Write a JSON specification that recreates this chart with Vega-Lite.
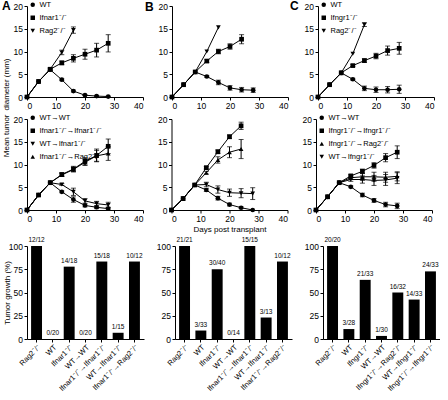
{
"$schema": "https://vega.github.io/schema/vega-lite/v6.json",
"padding": {"left": 1, "top": 0, "right": 0, "bottom": 0},
"config": {
 "font": "Liberation Sans",
 "view": {"stroke": null},
 "axis": {"grid": false, "domainColor": "#000", "tickColor": "#000", "labelColor": "#000", "titleColor": "#000", "labelFontSize": 8.5, "titleFontSize": 8, "titleFontWeight": "normal", "tickSize": 3, "labelPadding": 1.5, "titlePadding": 2, "domainWidth": 1, "tickWidth": 1},
 "legend": {"labelFontSize": 7.5, "labelColor": "#000", "symbolSize": 20, "rowPadding": 2, "padding": 0, "labelOffset": 3},
 "title": {"fontSize": 12, "fontWeight": "bold", "color": "#000", "anchor": "start", "frame": "group", "offset": 0, "baseline": "alphabetic"}
},
"datasets": {
"lines": [
{"p":"A1","g":"WT","d":0,"v":0,"e":0},{"p":"A1","g":"WT","d":4,"v":3.4,"e":0},{"p":"A1","g":"WT","d":8,"v":6.0,"e":0.2},{"p":"A1","g":"WT","d":12,"v":3.8,"e":0.2},{"p":"A1","g":"WT","d":16,"v":1.3,"e":0.2},{"p":"A1","g":"WT","d":20,"v":0.4,"e":0.1},{"p":"A1","g":"WT","d":24,"v":0.2,"e":0.1},{"p":"A1","g":"WT","d":28,"v":0.1,"e":0.1},
{"p":"A1","g":"Ifnar1⁻/⁻","d":0,"v":0,"e":0},{"p":"A1","g":"Ifnar1⁻/⁻","d":4,"v":3.4,"e":0},{"p":"A1","g":"Ifnar1⁻/⁻","d":8,"v":6.1,"e":0.3},{"p":"A1","g":"Ifnar1⁻/⁻","d":12,"v":7.5,"e":0.4},{"p":"A1","g":"Ifnar1⁻/⁻","d":16,"v":8.5,"e":0.8},{"p":"A1","g":"Ifnar1⁻/⁻","d":20,"v":9.4,"e":1.1},{"p":"A1","g":"Ifnar1⁻/⁻","d":24,"v":10.3,"e":1.5},{"p":"A1","g":"Ifnar1⁻/⁻","d":28,"v":11.8,"e":1.9},
{"p":"A1","g":"Rag2⁻/⁻","d":0,"v":0,"e":0},{"p":"A1","g":"Rag2⁻/⁻","d":4,"v":3.4,"e":0},{"p":"A1","g":"Rag2⁻/⁻","d":8,"v":6.1,"e":0},{"p":"A1","g":"Rag2⁻/⁻","d":12,"v":9.8,"e":0.5},{"p":"A1","g":"Rag2⁻/⁻","d":16,"v":14.7,"e":0.7},
{"p":"A2","g":"WT→WT","d":0,"v":0,"e":0},{"p":"A2","g":"WT→WT","d":4,"v":3.3,"e":0},{"p":"A2","g":"WT→WT","d":8,"v":6.0,"e":0},{"p":"A2","g":"WT→WT","d":12,"v":4.0,"e":0.2},{"p":"A2","g":"WT→WT","d":16,"v":2.3,"e":0.6},{"p":"A2","g":"WT→WT","d":20,"v":1.0,"e":0.3},{"p":"A2","g":"WT→WT","d":24,"v":0.6,"e":0.3},{"p":"A2","g":"WT→WT","d":28,"v":0.3,"e":0.3},
{"p":"A2","g":"Ifnar1⁻/⁻→Ifnar1⁻/⁻","d":0,"v":0,"e":0},{"p":"A2","g":"Ifnar1⁻/⁻→Ifnar1⁻/⁻","d":4,"v":3.3,"e":0},{"p":"A2","g":"Ifnar1⁻/⁻→Ifnar1⁻/⁻","d":8,"v":6.0,"e":0},{"p":"A2","g":"Ifnar1⁻/⁻→Ifnar1⁻/⁻","d":12,"v":7.8,"e":0.4},{"p":"A2","g":"Ifnar1⁻/⁻→Ifnar1⁻/⁻","d":16,"v":9.0,"e":0.6},{"p":"A2","g":"Ifnar1⁻/⁻→Ifnar1⁻/⁻","d":20,"v":10.7,"e":0.8},{"p":"A2","g":"Ifnar1⁻/⁻→Ifnar1⁻/⁻","d":24,"v":12.0,"e":1.4},{"p":"A2","g":"Ifnar1⁻/⁻→Ifnar1⁻/⁻","d":28,"v":14.0,"e":1.6},
{"p":"A2","g":"WT→Ifnar1⁻/⁻","d":0,"v":0,"e":0},{"p":"A2","g":"WT→Ifnar1⁻/⁻","d":4,"v":3.3,"e":0},{"p":"A2","g":"WT→Ifnar1⁻/⁻","d":8,"v":6.0,"e":0},{"p":"A2","g":"WT→Ifnar1⁻/⁻","d":12,"v":5.6,"e":0.2},{"p":"A2","g":"WT→Ifnar1⁻/⁻","d":16,"v":4.0,"e":0.8},{"p":"A2","g":"WT→Ifnar1⁻/⁻","d":20,"v":2.0,"e":0.5},{"p":"A2","g":"WT→Ifnar1⁻/⁻","d":24,"v":1.4,"e":0.5},{"p":"A2","g":"WT→Ifnar1⁻/⁻","d":28,"v":1.1,"e":0.6},
{"p":"A2","g":"Ifnar1⁻/⁻→Rag2⁻/⁻","d":0,"v":0,"e":0},{"p":"A2","g":"Ifnar1⁻/⁻→Rag2⁻/⁻","d":4,"v":3.3,"e":0},{"p":"A2","g":"Ifnar1⁻/⁻→Rag2⁻/⁻","d":8,"v":6.0,"e":0},{"p":"A2","g":"Ifnar1⁻/⁻→Rag2⁻/⁻","d":12,"v":7.7,"e":0.3},{"p":"A2","g":"Ifnar1⁻/⁻→Rag2⁻/⁻","d":16,"v":8.9,"e":0.5},{"p":"A2","g":"Ifnar1⁻/⁻→Rag2⁻/⁻","d":20,"v":10.5,"e":0.7},{"p":"A2","g":"Ifnar1⁻/⁻→Rag2⁻/⁻","d":24,"v":11.9,"e":1.2},{"p":"A2","g":"Ifnar1⁻/⁻→Rag2⁻/⁻","d":28,"v":12.4,"e":1.5},
{"p":"B1","g":"WT","d":0,"v":0,"e":0},{"p":"B1","g":"WT","d":4,"v":2.7,"e":0},{"p":"B1","g":"WT","d":8,"v":5.5,"e":0},{"p":"B1","g":"WT","d":12,"v":4.5,"e":0.2},{"p":"B1","g":"WT","d":16,"v":3.2,"e":0.5},{"p":"B1","g":"WT","d":20,"v":2.0,"e":0.5},{"p":"B1","g":"WT","d":24,"v":1.6,"e":0.5},{"p":"B1","g":"WT","d":28,"v":1.5,"e":0.5},
{"p":"B1","g":"Ifnar1⁻/⁻","d":0,"v":0,"e":0},{"p":"B1","g":"Ifnar1⁻/⁻","d":4,"v":2.7,"e":0},{"p":"B1","g":"Ifnar1⁻/⁻","d":8,"v":5.5,"e":0},{"p":"B1","g":"Ifnar1⁻/⁻","d":12,"v":7.9,"e":0.3},{"p":"B1","g":"Ifnar1⁻/⁻","d":16,"v":10.0,"e":0.5},{"p":"B1","g":"Ifnar1⁻/⁻","d":20,"v":11.1,"e":0.6},{"p":"B1","g":"Ifnar1⁻/⁻","d":24,"v":12.7,"e":1.0},
{"p":"B1","g":"Rag2⁻/⁻","d":0,"v":0,"e":0},{"p":"B1","g":"Rag2⁻/⁻","d":4,"v":2.7,"e":0},{"p":"B1","g":"Rag2⁻/⁻","d":8,"v":5.5,"e":0},{"p":"B1","g":"Rag2⁻/⁻","d":12,"v":10.0,"e":0},{"p":"B1","g":"Rag2⁻/⁻","d":16,"v":15.3,"e":0},
{"p":"B2","g":"WT→WT","d":0,"v":0,"e":0},{"p":"B2","g":"WT→WT","d":4,"v":2.5,"e":0},{"p":"B2","g":"WT→WT","d":8,"v":5.5,"e":0},{"p":"B2","g":"WT→WT","d":12,"v":4.4,"e":0.3},{"p":"B2","g":"WT→WT","d":16,"v":2.6,"e":0.4},{"p":"B2","g":"WT→WT","d":20,"v":1.2,"e":0.3},{"p":"B2","g":"WT→WT","d":24,"v":0.5,"e":0.2},{"p":"B2","g":"WT→WT","d":28,"v":0.0,"e":0},
{"p":"B2","g":"Ifnar1⁻/⁻→Ifnar1⁻/⁻","d":0,"v":0,"e":0},{"p":"B2","g":"Ifnar1⁻/⁻→Ifnar1⁻/⁻","d":4,"v":2.5,"e":0},{"p":"B2","g":"Ifnar1⁻/⁻→Ifnar1⁻/⁻","d":8,"v":5.5,"e":0},{"p":"B2","g":"Ifnar1⁻/⁻→Ifnar1⁻/⁻","d":12,"v":9.3,"e":0.3},{"p":"B2","g":"Ifnar1⁻/⁻→Ifnar1⁻/⁻","d":16,"v":12.8,"e":0.4},{"p":"B2","g":"Ifnar1⁻/⁻→Ifnar1⁻/⁻","d":20,"v":16.1,"e":0.4},{"p":"B2","g":"Ifnar1⁻/⁻→Ifnar1⁻/⁻","d":24,"v":18.5,"e":0.8},
{"p":"B2","g":"WT→Ifnar1⁻/⁻","d":0,"v":0,"e":0},{"p":"B2","g":"WT→Ifnar1⁻/⁻","d":4,"v":2.5,"e":0},{"p":"B2","g":"WT→Ifnar1⁻/⁻","d":8,"v":5.5,"e":0},{"p":"B2","g":"WT→Ifnar1⁻/⁻","d":12,"v":5.6,"e":0.5},{"p":"B2","g":"WT→Ifnar1⁻/⁻","d":16,"v":4.5,"e":0.8},{"p":"B2","g":"WT→Ifnar1⁻/⁻","d":20,"v":3.8,"e":0.8},{"p":"B2","g":"WT→Ifnar1⁻/⁻","d":24,"v":3.7,"e":1.0},{"p":"B2","g":"WT→Ifnar1⁻/⁻","d":28,"v":3.6,"e":1.3},
{"p":"B2","g":"Ifnar1⁻/⁻→Rag2⁻/⁻","d":0,"v":0,"e":0},{"p":"B2","g":"Ifnar1⁻/⁻→Rag2⁻/⁻","d":4,"v":2.5,"e":0},{"p":"B2","g":"Ifnar1⁻/⁻→Rag2⁻/⁻","d":8,"v":5.5,"e":0},{"p":"B2","g":"Ifnar1⁻/⁻→Rag2⁻/⁻","d":12,"v":8.2,"e":0.3},{"p":"B2","g":"Ifnar1⁻/⁻→Rag2⁻/⁻","d":16,"v":11.0,"e":0.7},{"p":"B2","g":"Ifnar1⁻/⁻→Rag2⁻/⁻","d":20,"v":12.7,"e":1.2},{"p":"B2","g":"Ifnar1⁻/⁻→Rag2⁻/⁻","d":24,"v":13.4,"e":2.1},
{"p":"C1","g":"WT","d":0,"v":0,"e":0},{"p":"C1","g":"WT","d":4,"v":2.7,"e":0},{"p":"C1","g":"WT","d":8,"v":5.3,"e":0},{"p":"C1","g":"WT","d":12,"v":3.9,"e":0.2},{"p":"C1","g":"WT","d":16,"v":1.9,"e":0.5},{"p":"C1","g":"WT","d":20,"v":1.6,"e":0.6},{"p":"C1","g":"WT","d":24,"v":1.6,"e":0.7},{"p":"C1","g":"WT","d":28,"v":1.7,"e":0.9},
{"p":"C1","g":"Ifngr1⁻/⁻","d":0,"v":0,"e":0},{"p":"C1","g":"Ifngr1⁻/⁻","d":4,"v":2.7,"e":0},{"p":"C1","g":"Ifngr1⁻/⁻","d":8,"v":5.3,"e":0},{"p":"C1","g":"Ifngr1⁻/⁻","d":12,"v":6.9,"e":0.2},{"p":"C1","g":"Ifngr1⁻/⁻","d":16,"v":8.0,"e":0.4},{"p":"C1","g":"Ifngr1⁻/⁻","d":20,"v":9.0,"e":0.6},{"p":"C1","g":"Ifngr1⁻/⁻","d":24,"v":10.2,"e":1.0},{"p":"C1","g":"Ifngr1⁻/⁻","d":28,"v":10.7,"e":1.3},
{"p":"C1","g":"Rag2⁻/⁻","d":0,"v":0,"e":0},{"p":"C1","g":"Rag2⁻/⁻","d":4,"v":2.7,"e":0},{"p":"C1","g":"Rag2⁻/⁻","d":8,"v":5.3,"e":0},{"p":"C1","g":"Rag2⁻/⁻","d":12,"v":9.5,"e":0},{"p":"C1","g":"Rag2⁻/⁻","d":16,"v":15.9,"e":0.4},
{"p":"C2","g":"WT→WT","d":0,"v":0,"e":0},{"p":"C2","g":"WT→WT","d":4,"v":2.9,"e":0},{"p":"C2","g":"WT→WT","d":8,"v":6.0,"e":0},{"p":"C2","g":"WT→WT","d":12,"v":5.1,"e":0.2},{"p":"C2","g":"WT→WT","d":16,"v":3.3,"e":0.4},{"p":"C2","g":"WT→WT","d":20,"v":2.1,"e":0.4},{"p":"C2","g":"WT→WT","d":24,"v":1.2,"e":0.5},{"p":"C2","g":"WT→WT","d":28,"v":0.9,"e":0.6},
{"p":"C2","g":"Ifngr1⁻/⁻→Ifngr1⁻/⁻","d":0,"v":0,"e":0},{"p":"C2","g":"Ifngr1⁻/⁻→Ifngr1⁻/⁻","d":4,"v":2.9,"e":0},{"p":"C2","g":"Ifngr1⁻/⁻→Ifngr1⁻/⁻","d":8,"v":6.0,"e":0},{"p":"C2","g":"Ifngr1⁻/⁻→Ifngr1⁻/⁻","d":12,"v":7.5,"e":0.3},{"p":"C2","g":"Ifngr1⁻/⁻→Ifngr1⁻/⁻","d":16,"v":8.5,"e":0.5},{"p":"C2","g":"Ifngr1⁻/⁻→Ifngr1⁻/⁻","d":20,"v":9.8,"e":0.6},{"p":"C2","g":"Ifngr1⁻/⁻→Ifngr1⁻/⁻","d":24,"v":11.5,"e":0.9},{"p":"C2","g":"Ifngr1⁻/⁻→Ifngr1⁻/⁻","d":28,"v":12.7,"e":1.4},
{"p":"C2","g":"Ifngr1⁻/⁻→Rag2⁻/⁻","d":0,"v":0,"e":0},{"p":"C2","g":"Ifngr1⁻/⁻→Rag2⁻/⁻","d":4,"v":2.9,"e":0},{"p":"C2","g":"Ifngr1⁻/⁻→Rag2⁻/⁻","d":8,"v":6.0,"e":0},{"p":"C2","g":"Ifngr1⁻/⁻→Rag2⁻/⁻","d":12,"v":7.1,"e":0.4},{"p":"C2","g":"Ifngr1⁻/⁻→Rag2⁻/⁻","d":16,"v":7.3,"e":0.8},{"p":"C2","g":"Ifngr1⁻/⁻→Rag2⁻/⁻","d":20,"v":7.3,"e":1.0},{"p":"C2","g":"Ifngr1⁻/⁻→Rag2⁻/⁻","d":24,"v":7.2,"e":1.1},{"p":"C2","g":"Ifngr1⁻/⁻→Rag2⁻/⁻","d":28,"v":7.4,"e":1.0},
{"p":"C2","g":"WT→Ifngr1⁻/⁻","d":0,"v":0,"e":0},{"p":"C2","g":"WT→Ifngr1⁻/⁻","d":4,"v":2.9,"e":0},{"p":"C2","g":"WT→Ifngr1⁻/⁻","d":8,"v":6.0,"e":0},{"p":"C2","g":"WT→Ifngr1⁻/⁻","d":12,"v":6.7,"e":0.4},{"p":"C2","g":"WT→Ifngr1⁻/⁻","d":16,"v":6.7,"e":0.8},{"p":"C2","g":"WT→Ifngr1⁻/⁻","d":20,"v":6.5,"e":1.1},{"p":"C2","g":"WT→Ifngr1⁻/⁻","d":24,"v":6.6,"e":1.2},{"p":"C2","g":"WT→Ifngr1⁻/⁻","d":28,"v":7.0,"e":1.2}
],
"bars": [
{"p":"A","c":"Rag2⁻/⁻","pct":100,"lab":"12/12"},{"p":"A","c":"WT","pct":0,"lab":"0/20"},{"p":"A","c":"Ifnar1⁻/⁻","pct":77.8,"lab":"14/18"},{"p":"A","c":"WT→WT","pct":0,"lab":"0/20"},{"p":"A","c":"Ifnar1⁻/⁻→Ifnar1⁻/⁻","pct":83.3,"lab":"15/18"},{"p":"A","c":"WT→Ifnar1⁻/⁻","pct":6.7,"lab":"1/15"},{"p":"A","c":"Ifnar1⁻/⁻→Rag2⁻/⁻","pct":83.3,"lab":"10/12"},
{"p":"B","c":"Rag2⁻/⁻","pct":100,"lab":"21/21"},{"p":"B","c":"WT","pct":9.1,"lab":"3/33"},{"p":"B","c":"Ifnar1⁻/⁻","pct":75,"lab":"30/40"},{"p":"B","c":"WT→WT","pct":0,"lab":"0/14"},{"p":"B","c":"Ifnar1⁻/⁻→Ifnar1⁻/⁻","pct":100,"lab":"15/15"},{"p":"B","c":"WT→Ifnar1⁻/⁻","pct":23.1,"lab":"3/13"},{"p":"B","c":"Ifnar1⁻/⁻→Rag2⁻/⁻","pct":83.3,"lab":"10/12"},
{"p":"C","c":"Rag2⁻/⁻","pct":100,"lab":"20/20"},{"p":"C","c":"WT","pct":10.7,"lab":"3/28"},{"p":"C","c":"Ifngr1⁻/⁻","pct":63.6,"lab":"21/33"},{"p":"C","c":"WT→WT","pct":3.3,"lab":"1/30"},{"p":"C","c":"Ifngr1⁻/⁻→Rag2⁻/⁻","pct":50,"lab":"16/32"},{"p":"C","c":"WT→Ifngr1⁻/⁻","pct":42.4,"lab":"14/33"},{"p":"C","c":"Ifngr1⁻/⁻→Ifngr1⁻/⁻","pct":72.7,"lab":"24/33"}
]
},
"vconcat": [
{"hconcat": [
 {"width": 116, "height": 91, "data": {"name": "lines"}, "title": {"text": "A", "dx": -25, "dy": 16},
  "transform": [{"filter": "datum.p === 'A1'"}],
  "encoding": {"x": {"field": "d", "type": "quantitative", "scale": {"domain": [0,40], "nice": false}, "axis": {"values": [0,10,20,30,40], "title": null}},
   "y": {"field": "v", "type": "quantitative", "scale": {"domain": [0,20], "nice": false}, "axis": {"values": [0,5,10,15,20], "title": "diameter (mm)", "titleAngle": -90, "titleAlign": "left", "titleBaseline": "bottom", "titleX": -17, "titleY": 104}}},
  "layer": [
   {"mark": {"type": "line", "color": "black", "strokeWidth": 1}, "encoding": {"detail": {"field": "g"}}},
   {"transform": [{"filter": "datum.e > 0"}], "mark": {"type": "errorbar", "color": "black", "thickness": 1, "ticks": {"size": 5, "color": "black"}}, "encoding": {"yError": {"field": "e"}}},
   {"mark": {"type": "point", "filled": true, "color": "black", "opacity": 1, "size": 22}, "encoding": {"shape": {"field": "g", "type": "nominal", "scale": {"domain": ["WT","Ifnar1⁻/⁻","Rag2⁻/⁻"], "range": ["circle","square","triangle-down"]},
     "legend": {"title": null, "orient": "none", "legendX": 2, "legendY": -5, "encode": {"labels": {"update": {"fontStyle": {"signal": "datum.label === 'WT' || datum.label === 'WT→WT' ? 'normal' : 'italic'"}}}}}}}}
  ]},
 {"width": 116, "height": 91, "data": {"name": "lines"}, "title": {"text": "B", "dx": -27, "dy": 16},
  "transform": [{"filter": "datum.p === 'B1'"}],
  "encoding": {"x": {"field": "d", "type": "quantitative", "scale": {"domain": [0,40], "nice": false}, "axis": {"values": [0,10,20,30,40], "title": null}},
   "y": {"field": "v", "type": "quantitative", "scale": {"domain": [0,20], "nice": false}, "axis": {"values": [0,5,10,15,20], "title": null}}},
  "layer": [
   {"mark": {"type": "line", "color": "black", "strokeWidth": 1}, "encoding": {"detail": {"field": "g"}}},
   {"transform": [{"filter": "datum.e > 0"}], "mark": {"type": "errorbar", "color": "black", "thickness": 1, "ticks": {"size": 5, "color": "black"}}, "encoding": {"yError": {"field": "e"}}},
   {"mark": {"type": "point", "filled": true, "color": "black", "opacity": 1, "size": 22}, "encoding": {"shape": {"field": "g", "type": "nominal", "scale": {"domain": ["WT","Ifnar1⁻/⁻","Rag2⁻/⁻"], "range": ["circle","square","triangle-down"]}, "legend": null}}}
  ]},
 {"width": 116, "height": 91, "data": {"name": "lines"}, "title": {"text": "C", "dx": -28, "dy": 16},
  "transform": [{"filter": "datum.p === 'C1'"}],
  "encoding": {"x": {"field": "d", "type": "quantitative", "scale": {"domain": [0,40], "nice": false}, "axis": {"values": [0,10,20,30,40], "title": null}},
   "y": {"field": "v", "type": "quantitative", "scale": {"domain": [0,20], "nice": false}, "axis": {"values": [0,5,10,15,20], "title": null}}},
  "layer": [
   {"mark": {"type": "line", "color": "black", "strokeWidth": 1}, "encoding": {"detail": {"field": "g"}}},
   {"transform": [{"filter": "datum.e > 0"}], "mark": {"type": "errorbar", "color": "black", "thickness": 1, "ticks": {"size": 5, "color": "black"}}, "encoding": {"yError": {"field": "e"}}},
   {"mark": {"type": "point", "filled": true, "color": "black", "opacity": 1, "size": 22}, "encoding": {"shape": {"field": "g", "type": "nominal", "scale": {"domain": ["WT","Ifngr1⁻/⁻","Rag2⁻/⁻"], "range": ["circle","square","triangle-down"]},
     "legend": {"title": null, "orient": "none", "legendX": 2, "legendY": -5, "encode": {"labels": {"update": {"fontStyle": {"signal": "datum.label === 'WT' || datum.label === 'WT→WT' ? 'normal' : 'italic'"}}}}}}}}
  ]}
 ], "spacing": 1, "resolve": {"scale": {"x": "independent", "y": "independent", "shape": "independent"}, "legend": {"shape": "independent"}}},
{"hconcat": [
 {"width": 116, "height": 91, "data": {"name": "lines"},
  "transform": [{"filter": "datum.p === 'A2'"}],
  "encoding": {"x": {"field": "d", "type": "quantitative", "scale": {"domain": [0,40], "nice": false}, "axis": {"values": [0,10,20,30,40], "title": null}},
   "y": {"field": "v", "type": "quantitative", "scale": {"domain": [0,20], "nice": false}, "axis": {"values": [0,5,10,15,20], "title": "Mean tumor", "titleAngle": -90, "titleAlign": "right", "titleBaseline": "bottom", "titleX": -17, "titleY": -5}}},
  "layer": [
   {"mark": {"type": "line", "color": "black", "strokeWidth": 1}, "encoding": {"detail": {"field": "g"}}},
   {"transform": [{"filter": "datum.e > 0"}], "mark": {"type": "errorbar", "color": "black", "thickness": 1, "ticks": {"size": 5, "color": "black"}}, "encoding": {"yError": {"field": "e"}}},
   {"mark": {"type": "point", "filled": true, "color": "black", "opacity": 1, "size": 22}, "encoding": {"shape": {"field": "g", "type": "nominal", "scale": {"domain": ["WT→WT","Ifnar1⁻/⁻→Ifnar1⁻/⁻","WT→Ifnar1⁻/⁻","Ifnar1⁻/⁻→Rag2⁻/⁻"], "range": ["circle","square","triangle-down","triangle-up"]},
     "legend": {"title": null, "orient": "none", "legendX": 2, "legendY": -5, "encode": {"labels": {"update": {"fontStyle": {"signal": "datum.label === 'WT' || datum.label === 'WT→WT' ? 'normal' : 'italic'"}}}}}}}}
  ]},
 {"width": 116, "height": 91, "data": {"name": "lines"},
  "transform": [{"filter": "datum.p === 'B2'"}],
  "encoding": {"x": {"field": "d", "type": "quantitative", "scale": {"domain": [0,40], "nice": false}, "axis": {"values": [0,10,20,30,40], "title": "Days post transplant"}},
   "y": {"field": "v", "type": "quantitative", "scale": {"domain": [0,20], "nice": false}, "axis": {"values": [0,5,10,15,20], "title": null}}},
  "layer": [
   {"mark": {"type": "line", "color": "black", "strokeWidth": 1}, "encoding": {"detail": {"field": "g"}}},
   {"transform": [{"filter": "datum.e > 0"}], "mark": {"type": "errorbar", "color": "black", "thickness": 1, "ticks": {"size": 5, "color": "black"}}, "encoding": {"yError": {"field": "e"}}},
   {"mark": {"type": "point", "filled": true, "color": "black", "opacity": 1, "size": 22}, "encoding": {"shape": {"field": "g", "type": "nominal", "scale": {"domain": ["WT→WT","Ifnar1⁻/⁻→Ifnar1⁻/⁻","WT→Ifnar1⁻/⁻","Ifnar1⁻/⁻→Rag2⁻/⁻"], "range": ["circle","square","triangle-down","triangle-up"]}, "legend": null}}}
  ]},
 {"width": 116, "height": 91, "data": {"name": "lines"},
  "transform": [{"filter": "datum.p === 'C2'"}],
  "encoding": {"x": {"field": "d", "type": "quantitative", "scale": {"domain": [0,40], "nice": false}, "axis": {"values": [0,10,20,30,40], "title": null}},
   "y": {"field": "v", "type": "quantitative", "scale": {"domain": [0,20], "nice": false}, "axis": {"values": [0,5,10,15,20], "title": null}}},
  "layer": [
   {"mark": {"type": "line", "color": "black", "strokeWidth": 1}, "encoding": {"detail": {"field": "g"}}},
   {"transform": [{"filter": "datum.e > 0"}], "mark": {"type": "errorbar", "color": "black", "thickness": 1, "ticks": {"size": 5, "color": "black"}}, "encoding": {"yError": {"field": "e"}}},
   {"mark": {"type": "point", "filled": true, "color": "black", "opacity": 1, "size": 22}, "encoding": {"shape": {"field": "g", "type": "nominal", "scale": {"domain": ["WT→WT","Ifngr1⁻/⁻→Ifngr1⁻/⁻","Ifngr1⁻/⁻→Rag2⁻/⁻","WT→Ifngr1⁻/⁻"], "range": ["circle","square","triangle-up","triangle-down"]},
     "legend": {"title": null, "orient": "none", "legendX": 2, "legendY": -5, "encode": {"labels": {"update": {"fontStyle": {"signal": "datum.label === 'WT' || datum.label === 'WT→WT' ? 'normal' : 'italic'"}}}}}}}}
  ]}
 ], "spacing": 13.5, "resolve": {"scale": {"x": "independent", "y": "independent", "shape": "independent"}, "legend": {"shape": "independent"}}},
{"hconcat": [
 {"width": 117, "height": 93, "data": {"name": "bars"},
  "transform": [{"filter": "datum.p === 'A'"}],
  "encoding": {"x": {"field": "c", "type": "nominal", "sort": null, "scale": {"paddingInner": 0.33, "paddingOuter": 0.25}, "axis": {"title": null, "labelAngle": -45, "labelFontSize": 7.5, "labelPadding": 1}},
   "y": {"field": "pct", "type": "quantitative", "scale": {"domain": [0,100], "nice": false}, "axis": {"values": [0,25,50,75,100], "title": "Tumor growth (%)", "titleAngle": -90, "titleAlign": "center", "titleBaseline": "bottom", "titleX": -16, "titleY": 46.5}}},
  "layer": [
   {"mark": {"type": "bar", "color": "black"}},
   {"mark": {"type": "text", "baseline": "alphabetic", "dy": -4, "fontSize": 6.5, "color": "black"}, "encoding": {"text": {"field": "lab"}}}
  ]},
 {"width": 117, "height": 93, "data": {"name": "bars"},
  "transform": [{"filter": "datum.p === 'B'"}],
  "encoding": {"x": {"field": "c", "type": "nominal", "sort": null, "scale": {"paddingInner": 0.33, "paddingOuter": 0.25}, "axis": {"title": null, "labelAngle": -45, "labelFontSize": 7.5, "labelPadding": 1}},
   "y": {"field": "pct", "type": "quantitative", "scale": {"domain": [0,100], "nice": false}, "axis": {"values": [0,25,50,75,100], "title": null}}},
  "layer": [
   {"mark": {"type": "bar", "color": "black"}},
   {"mark": {"type": "text", "baseline": "alphabetic", "dy": -4, "fontSize": 6.5, "color": "black"}, "encoding": {"text": {"field": "lab"}}}
  ]},
 {"width": 117, "height": 93, "data": {"name": "bars"},
  "transform": [{"filter": "datum.p === 'C'"}],
  "encoding": {"x": {"field": "c", "type": "nominal", "sort": null, "scale": {"paddingInner": 0.33, "paddingOuter": 0.25}, "axis": {"title": null, "labelAngle": -45, "labelFontSize": 7.5, "labelPadding": 1}},
   "y": {"field": "pct", "type": "quantitative", "scale": {"domain": [0,100], "nice": false}, "axis": {"values": [0,25,50,75,100], "title": null}}},
  "layer": [
   {"mark": {"type": "bar", "color": "black"}},
   {"mark": {"type": "text", "baseline": "alphabetic", "dy": -4, "fontSize": 6.5, "color": "black"}, "encoding": {"text": {"field": "lab"}}}
  ]}
 ], "spacing": 12, "resolve": {"scale": {"x": "independent", "y": "independent"}}}
],
"spacing": 4
}
